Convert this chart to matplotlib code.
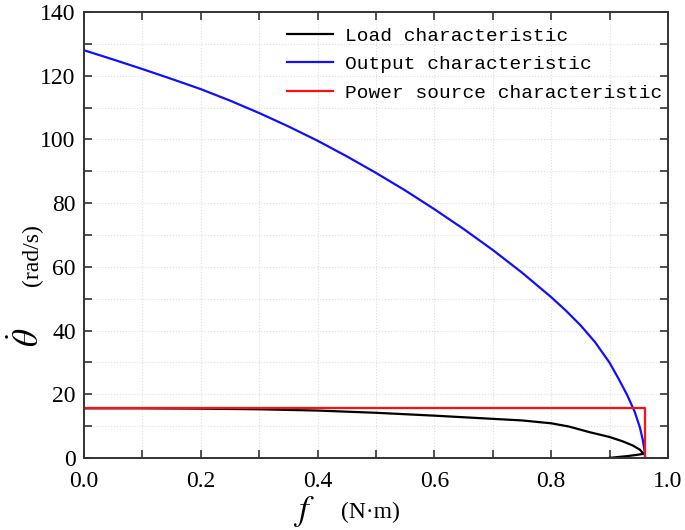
import matplotlib
matplotlib.use('Agg')
import matplotlib.pyplot as plt
from matplotlib.ticker import MultipleLocator

# output characteristic (blue)
f_out = [0, 0.05, 0.1, 0.15, 0.2, 0.25, 0.3, 0.35, 0.4, 0.45, 0.5, 0.55, 0.6, 0.65,
         0.7, 0.75, 0.8, 0.825, 0.85, 0.875, 0.9, 0.915, 0.93, 0.943, 0.952,
         0.957, 0.96, 0.961]
w_out = [128, 125.1, 122.1, 119.0, 115.8, 112.2, 108.3, 104.1, 99.6, 94.7, 89.5, 84.0,
         78.1, 71.9, 65.3, 58.2, 50.5, 46.3, 41.7, 36.4, 29.9, 25.0, 19.8, 14.5, 9.5,
         5.5, 2.0, 0]

# load characteristic (black), upper branch then lower branch
f_load = [0, 0.1, 0.2, 0.3, 0.35, 0.4, 0.5, 0.6, 0.7, 0.75, 0.8, 0.83, 0.866, 0.9,
          0.923, 0.94, 0.952, 0.958, 0.945, 0.93, 0.9, 0.87]
w_load = [15.6, 15.6, 15.5, 15.3, 15.1, 14.9, 14.2, 13.3, 12.3, 11.8, 10.9, 9.9, 8.1,
          6.6, 5.2, 3.9, 2.6, 1.3, 0.95, 0.6, 0.05, -0.6]

# power source characteristic (red)
f_src = [0, 0.961, 0.961]
w_src = [15.7, 15.7, 0]

plt.rcParams['font.family'] = 'Liberation Serif'
plt.rcParams['mathtext.fontset'] = 'stix'

fig = plt.figure(figsize=(6.85, 5.3), dpi=100)
ax = fig.add_axes([0.1226, 0.1358, 0.8526, 0.8415])

ax.plot(f_load, w_load, color='black', lw=1.6, label='Load characteristic')
ax.plot(f_out, w_out, color='#1010ff', lw=1.6, label='Output characteristic')
ax.plot(f_src, w_src, color='#ff1010', lw=1.6, label='Power source characteristic')

ax.set_xlim(0, 1.0)
ax.set_ylim(0, 140)
ax.xaxis.set_major_locator(MultipleLocator(0.2))
ax.xaxis.set_minor_locator(MultipleLocator(0.1))
ax.yaxis.set_major_locator(MultipleLocator(20))
ax.yaxis.set_minor_locator(MultipleLocator(10))
ax.xaxis.set_major_formatter(plt.FormatStrFormatter('%.1f'))
ax.tick_params(which='both', direction='in', top=True, right=True, labelsize=17,
               width=1.2, color='#333333')
ax.tick_params(which='both', length=6)
ax.tick_params(axis='x', pad=9)
ax.tick_params(axis='y', pad=6)
ax.grid(which='both', color='#dddddd', linestyle=':', linewidth=0.8)
for s in ax.spines.values():
    s.set_linewidth(1.4)
    s.set_color('#333333')

leg = ax.legend(loc='upper right', bbox_to_anchor=(1.02, 1.005), frameon=False,
                prop={'family': 'Liberation Mono', 'size': 14},
                handlelength=2.4, handletextpad=0.6, labelspacing=0.55)

# axis labels
ax.text(-0.095, 0.27, r'$\dot{\theta}$', transform=ax.transAxes, fontsize=25,
        rotation=90, ha='center', va='center')
ax.text(-0.088, 0.455, '(rad/s)', transform=ax.transAxes, fontsize=17,
        rotation=90, ha='center', va='center')
ax.text(0.376, -0.12, r'$f$', transform=ax.transAxes, fontsize=25,
        ha='center', va='center')
ax.text(0.49, -0.123, '(N·m)', transform=ax.transAxes, fontsize=17,
        ha='center', va='center')

fig.savefig('out.png', dpi=100)
